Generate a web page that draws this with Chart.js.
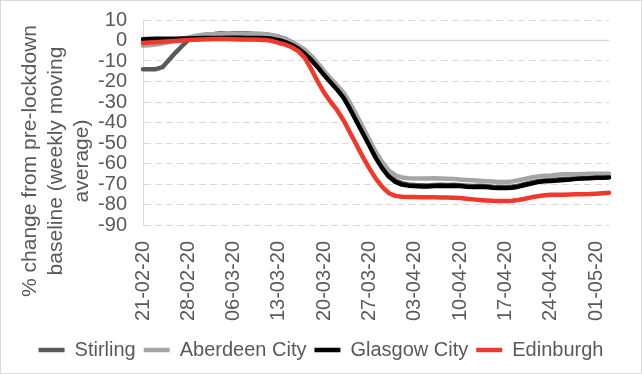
<!DOCTYPE html>
<html>
<head>
<meta charset="utf-8">
<script src="https://cdn.jsdelivr.net/npm/chart.js@4/dist/chart.umd.min.js"></script>
<style>
  html, body { margin: 0; padding: 0; background: #fff; }
  #wrap { position: absolute; left: 0; top: 0; width: 640px; height: 372px; border: 1px solid #D9D9D9; }
</style>
</head>
<body>
<div id="wrap"><canvas id="chart"></canvas></div>
<script>
// Daily dates, 21 Feb to 3 May 2020
const dates = [
    '21-02-20','22-02-20','23-02-20','24-02-20','25-02-20','26-02-20','27-02-20','28-02-20','29-02-20',
    '01-03-20','02-03-20','03-03-20','04-03-20','05-03-20','06-03-20','07-03-20','08-03-20','09-03-20','10-03-20',
    '11-03-20','12-03-20','13-03-20','14-03-20','15-03-20','16-03-20','17-03-20','18-03-20','19-03-20','20-03-20',
    '21-03-20','22-03-20','23-03-20','24-03-20','25-03-20','26-03-20','27-03-20','28-03-20','29-03-20','30-03-20','31-03-20',
    '01-04-20','02-04-20','03-04-20','04-04-20','05-04-20','06-04-20','07-04-20','08-04-20','09-04-20','10-04-20',
    '11-04-20','12-04-20','13-04-20','14-04-20','15-04-20','16-04-20','17-04-20','18-04-20','19-04-20','20-04-20',
    '21-04-20','22-04-20','23-04-20','24-04-20','25-04-20','26-04-20','27-04-20','28-04-20','29-04-20','30-04-20',
    '01-05-20','02-05-20','03-05-20'
];

// % change from pre-lockdown baseline (weekly moving average)
const stirling = [
    -14, -14, -14, -13, -9.5, -6, -2.8, 0.3, 1.5, 2.5,
    3, 3.2, 3.5, 3.3, 3.5, 3.4, 3.5, 3.3, 3.2, 3,
    2.5, 1.8, 0.8, -0.8, -2.8, -5, -8, -11.5, -15.5, -19.5,
    -23, -27, -32.5, -38.5, -44.5, -50.5, -56.5, -61.5, -65.5, -68.3,
    -69.6, -70.2, -70.5, -70.6, -70.7, -70.5, -70.4, -70.5, -70.4, -70.6,
    -70.8, -71, -70.9, -71, -71.3, -71.5, -71.5, -71.3, -70.8, -70,
    -69.3, -68.6, -68.3, -68, -67.8, -67.6, -67.4, -67.2, -67, -66.9,
    -66.7, -66.6, -66.5
];
const aberdeen = [
    -2.5, -2.3, -2, -1.5, -0.8, 0, 0.8, 1.5, 2.2, 2.7,
    3, 3, 3.2, 3.3, 3.3, 3.2, 3.3, 3.3, 3.2, 3,
    2.6, 1.8, 0.8, -0.8, -2.5, -4.5, -7.5, -11, -15, -18.5,
    -22, -25.5, -30.5, -36.5, -42.5, -48.5, -54.5, -59.5, -63.5, -65.8,
    -66.8, -67.2, -67.3, -67.3, -67.3, -67.2, -67.3, -67.4, -67.5, -67.8,
    -68, -68.2, -68.4, -68.6, -68.8, -69, -69, -68.8, -68.2, -67.5,
    -66.8, -66.3, -66, -65.8, -65.5, -65.3, -65.2, -65.2, -65.1, -65,
    -65, -65, -65
];
const glasgow = [
    0.6, 0.7, 0.8, 0.8, 0.9, 0.9, 1, 1, 1.1, 1.2,
    1.2, 1.2, 1.2, 1.3, 1.3, 1.3, 1.2, 1.2, 1.2, 1.1,
    0.8, 0.2, -0.8, -2.2, -4, -6.5, -9.5, -13, -17, -20.5,
    -24, -28, -33.5, -39.5, -45.5, -51.5, -57.5, -62.5, -66.5, -69,
    -70.3, -70.8, -71, -71.2, -71.2, -71, -70.8, -71, -70.8, -71,
    -71.3, -71.5, -71.3, -71.5, -71.8, -72, -72, -71.8, -71.3, -70.5,
    -69.8, -69, -68.7, -68.5, -68.3, -68, -67.8, -67.5, -67.3, -67.2,
    -67, -67, -66.8
];
const edinburgh = [
    -1.2, -1, -0.8, -0.6, -0.4, -0.2, 0, 0.2, 0.4, 0.5,
    0.6, 0.7, 0.7, 0.7, 0.6, 0.5, 0.5, 0.5, 0.4, 0.3,
    -0.3, -1.2, -2, -3.3, -5.2, -8.5, -14, -20, -25.5, -30,
    -34, -39, -45, -51, -57, -62.5, -67.5, -71.5, -74.5, -75.8,
    -76.2, -76.3, -76.4, -76.5, -76.5, -76.5, -76.6, -76.6, -76.7, -76.8,
    -77.2, -77.5, -77.8, -78, -78.2, -78.3, -78.3, -78.2, -77.8, -77.2,
    -76.5, -76, -75.5, -75.3, -75.2, -75.2, -75.1, -75, -75, -74.9,
    -74.7, -74.5, -74.3
];

const yTitle = ['% change from pre-lockdown', 'baseline (weekly moving', 'average)'];
const FONT = '"Liberation Sans", Arial, sans-serif';
const TEXT = '#595959';
const GRID = '#D9D9D9';

function series(label, data, color, order) {
    return {
        label: label,
        data: data,
        borderColor: color,
        backgroundColor: color,
        borderWidth: 4.5,
        borderCapStyle: 'round',
        borderJoinStyle: 'round',
        pointRadius: 0,
        tension: 0,
        order: order
    };
}

// solid line at zero + rotated y title
const extras = {
    id: 'extras',
    beforeDatasetsDraw(chart) {
        const ctx = chart.ctx, a = chart.chartArea;
        const y = chart.scales.y.getPixelForValue(0);
        ctx.save();
        ctx.strokeStyle = GRID;
        ctx.lineWidth = 1.5;
        ctx.beginPath();
        ctx.moveTo(a.left, y);
        ctx.lineTo(a.right, y);
        ctx.stroke();
        ctx.restore();
    },
    afterDraw(chart) {
        const ctx = chart.ctx;
        ctx.save();
        ctx.fillStyle = TEXT;
        ctx.font = '21px ' + FONT;
        ctx.textAlign = 'center';
        ctx.textBaseline = 'middle';
        ctx.translate(0, 160);
        ctx.rotate(-Math.PI / 2);
        yTitle.forEach((t, i) => ctx.fillText(t, 0, 29 + i * 26));
        ctx.restore();
    }
};

new Chart(document.getElementById('chart'), {
    type: 'line',
    data: {
        labels: dates,
        datasets: [
            series('Stirling', stirling, '#595959', 4),
            series('Aberdeen City', aberdeen, '#A5A5A5', 3),
            series('Glasgow City', glasgow, '#000000', 2),
            series('Edinburgh', edinburgh, '#F0392B', 1)
        ]
    },
    options: {
        responsive: true,
        maintainAspectRatio: false,
        devicePixelRatio: 1,
        animation: false,
        layout: { padding: { left: 15, top: 10, right: 15, bottom: 3 } },
        plugins: {
            tooltip: { enabled: false },
            legend: {
                position: 'bottom',
                labels: {
                    color: TEXT,
                    font: { family: FONT, size: 20 },
                    usePointStyle: true,
                    pointStyle: 'line',
                    pointStyleWidth: 26,
                    padding: 8,
                    sort: (a, b) => a.datasetIndex - b.datasetIndex
                }
            }
        },
        scales: {
            x: {
                grid: { display: false },
                border: { display: false },
                ticks: {
                    color: TEXT,
                    font: { family: FONT, size: 20 },
                    autoSkip: false,
                    minRotation: 90,
                    maxRotation: 90,
                    padding: 8,
                    callback: (v, i) => (i % 7 === 0 ? dates[i] : '')
                },
                afterFit: s => { s.height = 107; }
            },
            y: {
                min: -90,
                max: 10,
                grid: { color: GRID, lineWidth: 1, drawTicks: false },
                border: { display: true, color: GRID, width: 1, dash: [7, 4] },
                ticks: {
                    stepSize: 10,
                    autoSkip: false,
                    color: TEXT,
                    font: { family: FONT, size: 20, lineHeight: 0.3 },
                    padding: 16
                },
                afterFit: s => { s.width = 127; }
            }
        }
    },
    plugins: [extras]
});
</script>
</body>
</html>
